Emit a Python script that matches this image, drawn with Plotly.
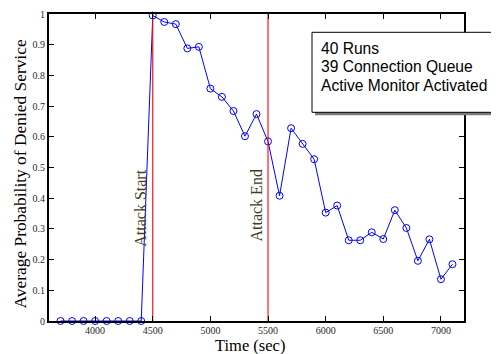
import plotly.graph_objects as go

# Data
time_sec = [3700, 3800, 3900, 4000, 4100, 4200, 4300, 4400, 4500, 4600, 4700, 4800,
            4900, 5000, 5100, 5200, 5300, 5400, 5500, 5600, 5700, 5800, 5900, 6000,
            6100, 6200, 6300, 6400, 6500, 6600, 6700, 6800, 6900, 7000, 7100]
prob_denied = [0, 0, 0, 0, 0, 0, 0, 0, 0.995, 0.974, 0.967, 0.888,
               0.893, 0.757, 0.730, 0.684, 0.602, 0.674, 0.585, 0.408, 0.628, 0.577,
               0.527, 0.353, 0.376, 0.263, 0.263, 0.289, 0.267, 0.361, 0.303, 0.196,
               0.266, 0.136, 0.185]
attack_start = 4500
attack_end = 5500
event_labels = ["Attack Start", "Attack End"]
legend_lines = ["40 Runs", "39 Connection Queue", "Active Monitor Activated"]
x_ticks = [4000, 4500, 5000, 5500, 6000, 6500, 7000]
y_ticks = [0, 0.1, 0.2, 0.3, 0.4, 0.5, 0.6, 0.7, 0.8, 0.9, 1]
x_title = "Time (sec)"
y_title = "Average Probability of Denied Service"

SERIF = "Times New Roman, Liberation Serif, serif"
SANS = "Arial, Liberation Sans, sans-serif"

# page body has an 8px margin: plot area lands at screen x 49..464, y 14..321
PL, PT, PW, PH = 49, 14, 415, 307


def px_x(p):
    return (p - PL) / PW


def px_y(p):
    return (PT + PH - p) / PH


fig = go.Figure()
fig.add_trace(go.Scatter(
    x=time_sec, y=prob_denied, mode="lines+markers",
    line=dict(color="#0000ff", width=1),
    marker=dict(symbol="circle-open", size=7, color="#0000ff", line=dict(width=1)),
    cliponaxis=False, showlegend=False, hoverinfo="skip"))

for t in [attack_start, attack_end]:
    fig.add_trace(go.Scatter(
        x=[t, t], y=[0, 1], mode="lines",
        line=dict(color="#ff0000", width=1.1),
        showlegend=False, hoverinfo="skip"))

for t, lbl, yc in [(attack_start, event_labels[0], 208.5), (attack_end, event_labels[1], 206)]:
    fig.add_annotation(x=t, xref="x", y=px_y(yc), yref="paper", text=lbl, textangle=-90,
                       showarrow=False, xshift=-12.5,
                       font=dict(family=SERIF, size=16, color="#3f3f1f"))

# Legend-style text box with shadow
fig.add_shape(type="rect", xref="paper", yref="paper",
              x0=px_x(315), x1=1.3, y0=px_y(115.3), y1=px_y(35),
              line=dict(width=0), fillcolor="#7a7a7a", layer="above")
fig.add_shape(type="rect", xref="paper", yref="paper",
              x0=px_x(312), x1=1.3, y0=px_y(112.3), y1=px_y(32.3),
              line=dict(width=1, color="black"), fillcolor="white", layer="above")
for line, yc in zip(legend_lines, [48.5, 67, 85]):
    fig.add_annotation(x=px_x(319), xref="paper", y=px_y(yc), yref="paper",
                       text=line, showarrow=False, xanchor="left", yanchor="middle",
                       font=dict(family=SANS, size=15.6, color="black"))

# Axis titles
fig.add_annotation(x=px_x(19), xref="paper", y=px_y(174.5), yref="paper",
                   text=y_title, textangle=-90, showarrow=False,
                   xanchor="center", yanchor="middle",
                   font=dict(family=SERIF, size=17.4, color="black"))
fig.add_annotation(x=px_x(249.5), xref="paper", y=px_y(345.3), yref="paper",
                   text=x_title, showarrow=False, xanchor="center", yanchor="middle",
                   borderpad=0,
                   font=dict(family=SERIF, size=16.5, color="black"))

fig.update_layout(
    width=491, height=346,
    margin=dict(l=PL - 8, r=491 - (PL - 8) - PW, t=PT - 8, b=346 - (PT - 8) - PH,
                autoexpand=False),
    paper_bgcolor="white", plot_bgcolor="white",
    xaxis=dict(range=[3600, 7200], tickvals=x_ticks, ticks="inside", ticklen=5,
               tickcolor="black", showline=True, linecolor="black", linewidth=2,
               mirror="allticks", showgrid=False, zeroline=False, automargin=False,
               ticklabelstandoff=-1,
               tickfont=dict(family=SERIF, size=10, color="#2a2a2a")),
    yaxis=dict(range=[0, 1], tickvals=y_ticks, ticks="inside", ticklen=5,
               tickcolor="black", showline=True, linecolor="black", linewidth=2,
               mirror="allticks", showgrid=False, zeroline=False, automargin=False,
               tickfont=dict(family=SERIF, size=10, color="#2a2a2a")),
)

fig.write_html("out.html")
